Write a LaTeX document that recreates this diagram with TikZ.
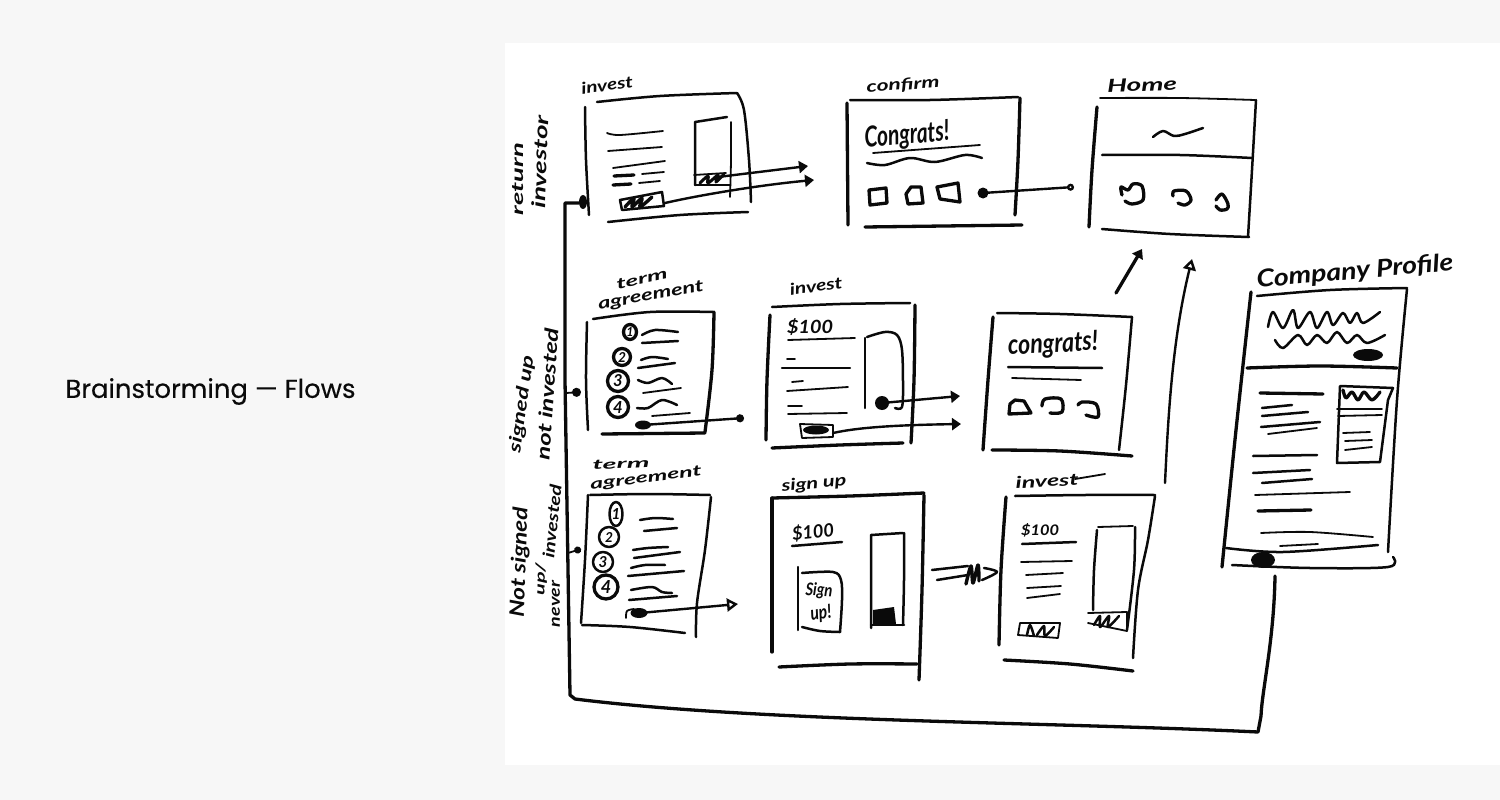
\documentclass[tikz,border=0pt]{standalone}
\usepackage{graphicx}
\usepackage{fontspec}
\setmainfont{Lato}
\newfontfamily\titlefont[FakeBold=0.35]{Poppins}
\usetikzlibrary{arrows.meta}
\definecolor{pagebg}{HTML}{F7F7F7}
\definecolor{inkc}{HTML}{0A0A0A}
\tikzset{
 ink/.style={draw=inkc,line width=2.5pt,line cap=round,line join=round},
 heavy/.style={line width=3.3pt},
 fine/.style={line width=1.8pt},
 hand/.style={inner sep=0pt,text=inkc,font=\bfseries\itshape},
 tipfull/.style={-{Triangle[length=9pt,width=12pt]}},
 tipopen/.style={-{Triangle[open,fill=white,length=11pt,width=13pt]}},
 conn/.style={draw=inkc,line width=2.4pt,line cap=round,line join=round},
}
\newcommand\sk[2][]{\draw[ink,#1] plot[smooth,tension=.55] coordinates {#2};}
% name, position, rotation, width, height, text
\newcommand\lbl[6]{\node[hand,rotate=#3] (#1) at (#2) {\resizebox{#4pt}{#5pt}{#6}};}
\begin{document}
\begin{tikzpicture}[x=1pt,y=-1pt]
\useasboundingbox (0,0) rectangle (1500,800);
\fill[pagebg] (0,0) rectangle (1500,800);
\fill[white] (505,43) rectangle (1500,765);
\node[inner sep=0pt,text=inkc,font=\titlefont] (title) at (210.5,391.5) {\resizebox{290pt}{!}{Brainstorming — Flows}};

% --- row labels
\lbl{ra}{518,179}{90}{72}{11}{return}
\lbl{rb}{540,162}{88}{93}{14}{investor}
\lbl{rc}{522,404}{82}{98}{13}{signed up}
\lbl{rd}{547,394}{86}{132}{14}{not invested}
\lbl{re}{520,562}{88}{110}{15}{Not signed}
\lbl{rf}{541,579}{88}{32}{10}{up/}
\lbl{rg}{556,604}{90}{46}{8}{never}
\lbl{rh}{552,521}{84}{74}{12}{invested}

% --- screen titles
\lbl{ta}{607,85}{8}{52}{12}{invest}
\lbl{tb}{903,85}{4}{73}{12}{confirm}
\lbl{tc}{1142,85}{2}{70}{13}{Home}
\lbl{td}{642,279}{12}{52}{10}{term}
\lbl{te}{651,296}{10}{107}{11}{agreement}
\lbl{tf}{816,286}{8}{53}{12}{invest}
\lbl{tg}{621,464}{3}{57}{9}{term}
\lbl{th}{646,479}{7}{112}{10}{agreement}
\lbl{ti}{814,484}{5}{65}{12}{sign up}
\lbl{tj}{1047,481}{3}{63}{12}{invest}
\sk[fine]{(1075,479) (1105,474)}
\lbl{tk}{1355,272}{5}{197}{18}{Company Profile}

% --- main feedback line
\coordinate (busstart) at (1275,576);
\coordinate (busa) at (579,203);
\coordinate (busb) at (581,392);
\coordinate (busc) at (581,549);
\draw[conn,heavy] (busstart) .. controls (1274,640) and (1262,690) .. (1261,716) -- (1258,732) .. controls (1050,722) and (760,722) .. (575,699) -- (570,695) -- (565,380) -- (565,203) -- (busa);
\fill[inkc] (583,202) ellipse [x radius=4pt,y radius=7pt];
\draw[conn,fine,-{Circle[length=9pt]}] (566,393) -- (busb);
\draw[conn,fine,-{Circle[length=7pt]}] (568,553) -- (busc);

% --- screen 1: invest
\sk{(585,107) (586,160) (589,215)}
\sk{(597,102) (660,96) (737,93)}
\sk{(737,93) (744,110) (749,160) (751,202)}
\sk{(608,222) (680,215) (748,212)}
\sk[fine]{(607,133) (620,135) (663,131)}
\sk[fine]{(608,151) (662,147)}
\sk[fine]{(613,168) (665,161)}
\sk[heavy]{(614,176) (634,175)}
\sk[fine]{(642,174) (664,172)}
\sk[heavy]{(613,185) (631,184)}
\sk[fine]{(639,183) (660,181)}
\draw[ink] (620,200) -- (662,192) -- (664,206) -- (622,210) -- cycle;
\sk[line width=3.4pt]{(625,207) (634,198) (632,207) (642,198) (640,207) (652,197)}
\draw[ink] (695,185) -- (695,122) -- (727,117);
\sk[fine]{(731,122) (731,160) (730,197)}
\draw[ink] (695,185) -- (730,185);
\sk[fine]{(694,175) (726,173)}
\sk[line width=3pt]{(700,183) (708,176) (708,183) (718,175) (716,182) (724,174)}
\coordinate (a1s) at (718,177);
\coordinate (a1e) at (808,166);
\coordinate (a2s) at (665,203);
\coordinate (a2e) at (814,180);
\draw[conn,tipfull] (a1s) -- (a1e);
\draw[conn,tipfull] (a2s) .. controls (700,195) and (760,185) .. (a2e);

% --- screen 2: confirm
\sk[heavy]{(847,103) (848,225)}
\sk{(850,100) (930,100) (1018,97)}
\sk[heavy]{(1020,98) (1018,160) (1015,215)}
\sk[heavy]{(865,227) (1022,225)}
\lbl{ca}{907,136}{5}{85}{21}{Congrats!}
\sk[fine]{(873,153) (980,145)}
\sk{(867,163) (885,165) (910,158) (935,162) (965,155) (982,158)}
\draw[ink,heavy] (869,190) -- (886,188) -- (887,203) -- (870,205) -- cycle;
\draw[ink,heavy] (906,194) -- (911,187) -- (921,187) -- (923,203) -- (908,204) -- cycle;
\draw[ink,heavy] (937,187) -- (958,183) -- (960,202) -- (940,199) -- cycle;
\coordinate (a3s) at (983,193);
\coordinate (a3e) at (1074,187);
\fill[inkc] (a3s) circle [radius=5.5pt];
\draw[conn,-{Circle[open,fill=white,length=7pt]}] (a3s) -- (a3e);

% --- screen 3: home
\sk[heavy]{(1097,107) (1092,170) (1089,227)}
\sk[fine]{(1100,98) (1180,98) (1255,100)}
\sk{(1256,100) (1252,170) (1248,237)}
\sk{(1102,229) (1170,234) (1249,237)}
\sk{(1102,155) (1180,155) (1252,158)}
\sk{(1153,137) (1163,131) (1174,136) (1185,134) (1203,128)}
\sk[heavy]{(1122,195) (1121,187) (1128,190) (1133,184) (1142,186) (1143,200) (1132,204) (1125,201)}
\sk[heavy]{(1173,196) (1174,191) (1186,191) (1191,200) (1185,205) (1178,203)}
\sk[heavy]{(1216,200) (1222,194) (1228,204) (1227,209) (1220,210) (1216,206)}

% --- row 2: term agreement
\sk{(587,322) (586,380) (588,430)}
\sk{(593,319) (650,312) (713,312)}
\sk[heavy]{(714,312) (712,370) (705,432)}
\sk[heavy]{(602,434) (705,433)}
\draw[ink,heavy] (630,332) ellipse [x radius=6.5pt,y radius=7.5pt];
\draw[ink,heavy] (622,357) circle [radius=8.5pt];
\draw[ink,heavy] (618,381) circle [radius=10.5pt];
\draw[ink,heavy] (618,407) circle [radius=10.5pt];
\node[hand] (d1) at (630,332) {\resizebox{!}{9pt}{1}};
\node[hand] (d2) at (622,357) {\resizebox{!}{10pt}{2}};
\node[hand] (d3) at (618,381) {\resizebox{!}{12pt}{3}};
\node[hand] (d4) at (618,407) {\resizebox{!}{12pt}{4}};
\sk{(642,335) (655,330) (678,332)}
\sk{(642,343) (678,341)}
\sk{(641,360) (652,357) (668,359)}
\sk{(638,368) (675,363)}
\sk{(638,380) (648,383) (662,378) (672,384)}
\sk[fine]{(643,393) (681,388)}
\sk{(637,408) (648,408) (662,400) (677,405)}
\sk[fine]{(652,416) (690,413)}
\fill[inkc] (643,425) ellipse [x radius=8pt,y radius=4.5pt];
\coordinate (a4s) at (643,425);
\coordinate (a4e) at (744,418);
\draw[conn,-{Circle[length=8pt]}] (a4s) -- (a4e);

% --- row 2: invest
\sk[heavy]{(770,315) (767,380) (766,440)}
\sk{(772,307) (840,304) (910,303)}
\sk[heavy]{(915,305) (914,380) (911,443)}
\sk[heavy]{(772,448) (840,445) (903,443)}
\lbl{da}{810,327}{0}{46}{15}{\$100}
\sk[fine]{(788,340) (855,338)}
\sk[fine]{(787,359) (795,359)}
\sk[line width=2.2pt]{(782,368) (850,368)}
\sk[fine]{(792,382) (803,381)}
\sk[fine]{(787,391) (848,387)}
\sk[fine]{(788,406) (802,406)}
\sk[fine]{(788,414) (847,413)}
\draw[ink] (865,408) -- (865,338);
\sk{(867,337) (885,332) (897,335) (902,350) (903,385) (902,407) (895,408)}
\fill[inkc] (882,403) ellipse [x radius=7pt,y radius=7pt];
\coordinate (a5s) at (882,403);
\coordinate (a5e) at (960,396);
\draw[conn,tipfull] (a5s) -- (a5e);
\draw[ink,fine] (800,424) -- (833,425) -- (833,437) -- (802,438) -- cycle;
\fill[inkc] (816,430) ellipse [x radius=13pt,y radius=4.5pt];
\coordinate (a6s) at (833,433);
\coordinate (a6e) at (961,424);
\draw[conn,tipfull] (a6s) .. controls (860,427) and (900,425) .. (a6e);

% --- congrats
\sk[heavy]{(993,317) (988,380) (983,450)}
\sk{(997,313) (1060,314) (1132,317)}
\sk{(1132,317) (1126,385) (1119,450)}
\sk[heavy]{(992,450) (1060,451) (1132,456)}
\lbl{cb}{1053,345}{3}{90}{20}{congrats!}
\sk{(1008,367) (1102,368)}
\sk[fine]{(1012,378) (1081,380)}
\draw[ink,heavy] (1009,414) -- (1010,404) -- (1015,400) -- (1024,401) -- (1031,413) -- cycle;
\sk[heavy]{(1042,406) (1045,399) (1061,399) (1062,412) (1050,413)}
\sk[heavy]{(1078,405) (1082,402) (1096,404) (1098,417) (1086,415)}
\coordinate (a7s) at (1116,293);
\coordinate (a7e) at (1142,249);
\draw[conn,heavy,tipfull] (a7s) -- (a7e);

% --- row 3: term agreement
\sk{(588,495) (585,560) (581,623)}
\sk{(590,495) (650,494) (710,495)}
\sk{(711,497) (705,550) (697,603) (696,637)}
\sk{(582,625) (630,627) (685,633)}
\draw[ink] (616,514) ellipse [x radius=6.5pt,y radius=12pt];
\draw[ink] (609,537) circle [radius=10pt];
\draw[ink] (603,562) circle [radius=10pt];
\draw[ink,heavy] (606,587) circle [radius=12pt];
\node[hand] (e1) at (616,514) {\resizebox{!}{11pt}{1}};
\node[hand] (e2) at (609,537) {\resizebox{!}{10pt}{2}};
\node[hand] (e3) at (603,562) {\resizebox{!}{11pt}{3}};
\node[hand] (e4) at (606,587) {\resizebox{!}{13pt}{4}};
\sk{(640,520) (655,518) (673,519)}
\sk{(644,531) (677,528)}
\sk{(633,550) (648,548) (668,547)}
\sk{(634,558) (680,552)}
\sk{(631,568) (645,565) (665,565)}
\sk{(628,576) (684,571)}
\sk{(631,590) (652,587) (662,592) (672,593)}
\sk{(629,600) (677,596)}
\fill[inkc] (639,613) ellipse [x radius=8.5pt,y radius=5pt];
\sk[fine]{(626,618) (627,611) (634,609)}
\coordinate (a8s) at (640,613);
\coordinate (a8e) at (738,604);
\draw[conn,tipopen] (a8s) -- (a8e);

% --- row 3: sign up
\sk[heavy]{(772,498) (772,580) (772,652)}
\sk[heavy]{(772,498) (850,496) (924,493)}
\sk[heavy]{(924,495) (922,590) (919,680)}
\sk[heavy]{(779,667) (850,664) (917,664)}
\lbl{db}{813,532}{6}{42}{15}{\$100}
\sk{(792,546) (842,542)}
\sk{(798,567) (798,630)}
\sk{(802,573) (833,572) (841,580) (842,600) (840,632)}
\sk{(802,627) (820,631) (840,632)}
\lbl{sa}{819,591}{-3}{27}{13}{Sign}
\lbl{sb}{821,614}{8}{21}{14}{up!}
\draw[ink] (871,628) -- (871,535) -- (903,533);
\sk{(904,533) (904,580) (903,625)}
\draw[ink] (871,625) -- (904,625);
\fill[inkc] (873,610) -- (894,607) -- (896,624) -- (873,625) -- cycle;

% --- triple-struck arrow
\sk{(932,570) (968,566)}
\sk{(937,580) (968,575)}
\sk[line width=3.4pt]{(966,584) (971,566) (973,583) (978,565) (979,581)}
\sk{(984,568) (997,572) (982,580)}

% --- row 3: invest
\sk[heavy]{(1006,497) (1001,570) (999,645)}
\sk{(1015,496) (1085,495) (1155,495)}
\sk{(1155,496) (1148,540) (1138,590) (1133,658)}
\sk[heavy]{(1004,660) (1070,664) (1133,671)}
\lbl{dc}{1040,530}{0}{38}{12}{\$100}
\sk{(1022,544) (1076,542)}
\sk[fine]{(1021,562) (1072,561)}
\sk[fine]{(1026,575) (1063,573)}
\sk[fine]{(1027,588) (1061,586)}
\sk[fine]{(1027,598) (1060,594)}
\sk{(1097,530) (1094,570) (1093,610)}
\sk[fine]{(1098,527) (1133,526)}
\sk{(1135,527) (1134,570) (1127,630)}
\draw[ink,fine] (1088,613) -- (1127,612) -- (1127,631) -- (1088,623);
\sk{(1094,625) (1100,616) (1100,627) (1109,616) (1108,627) (1119,616)}
\draw[ink,fine] (1020,623) -- (1060,623) -- (1058,638) -- (1018,635) -- cycle;
\sk{(1027,635) (1030,625) (1034,636)}
\sk{(1037,635) (1044,626) (1045,636) (1054,627)}

% --- curved arrow to home
\coordinate (a9s) at (1165,483);
\coordinate (a9e) at (1192,259);
\draw[conn,tipopen] (a9s) .. controls (1168,420) and (1172,340) .. (a9e);

% --- company profile
\sk[heavy]{(1251,292) (1236,430) (1222,567)}
\sk{(1257,296) (1330,290) (1407,288)}
\sk{(1407,289) (1397,400) (1388,552)}
\sk{(1226,548) (1283,552) (1378,545)}
\sk{(1232,565) (1310,568) (1388,567) (1393,557)}
\sk[heavy]{(1247,368) (1320,366) (1397,368)}
\sk{(1268,327) (1273,312) (1283,328) (1293,310) (1298,328) (1310,312) (1317,328) (1327,312) (1333,325) (1343,313) (1350,323) (1357,313) (1363,323) (1380,312)}
\sk{(1275,340) (1283,348) (1298,335) (1307,345) (1317,335) (1327,343) (1337,332) (1347,343) (1357,335) (1367,343) (1385,335)}
\fill[inkc] (1368,355) ellipse [x radius=15pt,y radius=6pt];
\sk[heavy]{(1260,393) (1323,394)}
\sk{(1262,408) (1292,405)}
\sk{(1262,416) (1308,412)}
\sk{(1261,427) (1320,422)}
\sk[fine]{(1268,434) (1317,428)}
\sk{(1253,456) (1317,455)}
\sk{(1253,473) (1310,470)}
\sk{(1262,483) (1312,479)}
\sk[fine]{(1255,495) (1350,492)}
\sk[heavy]{(1258,511) (1311,510)}
\sk[fine]{(1261,533) (1310,532) (1373,537)}
\sk[fine]{(1280,546) (1318,544)}
\draw[ink] (1340,386) -- (1393,388) -- (1388,400) -- (1380,462) -- (1337,463) -- cycle;
\sk[heavy]{(1343,390) (1346,398) (1352,392) (1358,400) (1364,392) (1372,400) (1380,392)}
\sk[fine]{(1337,409) (1382,409)}
\sk[fine]{(1338,416) (1382,415)}
\sk[fine]{(1343,433) (1370,432)}
\sk[fine]{(1345,441) (1372,440)}
\sk[fine]{(1345,450) (1372,447)}
\fill[inkc] (1263,560) ellipse [x radius=12pt,y radius=8pt];
\end{tikzpicture}
\end{document}
